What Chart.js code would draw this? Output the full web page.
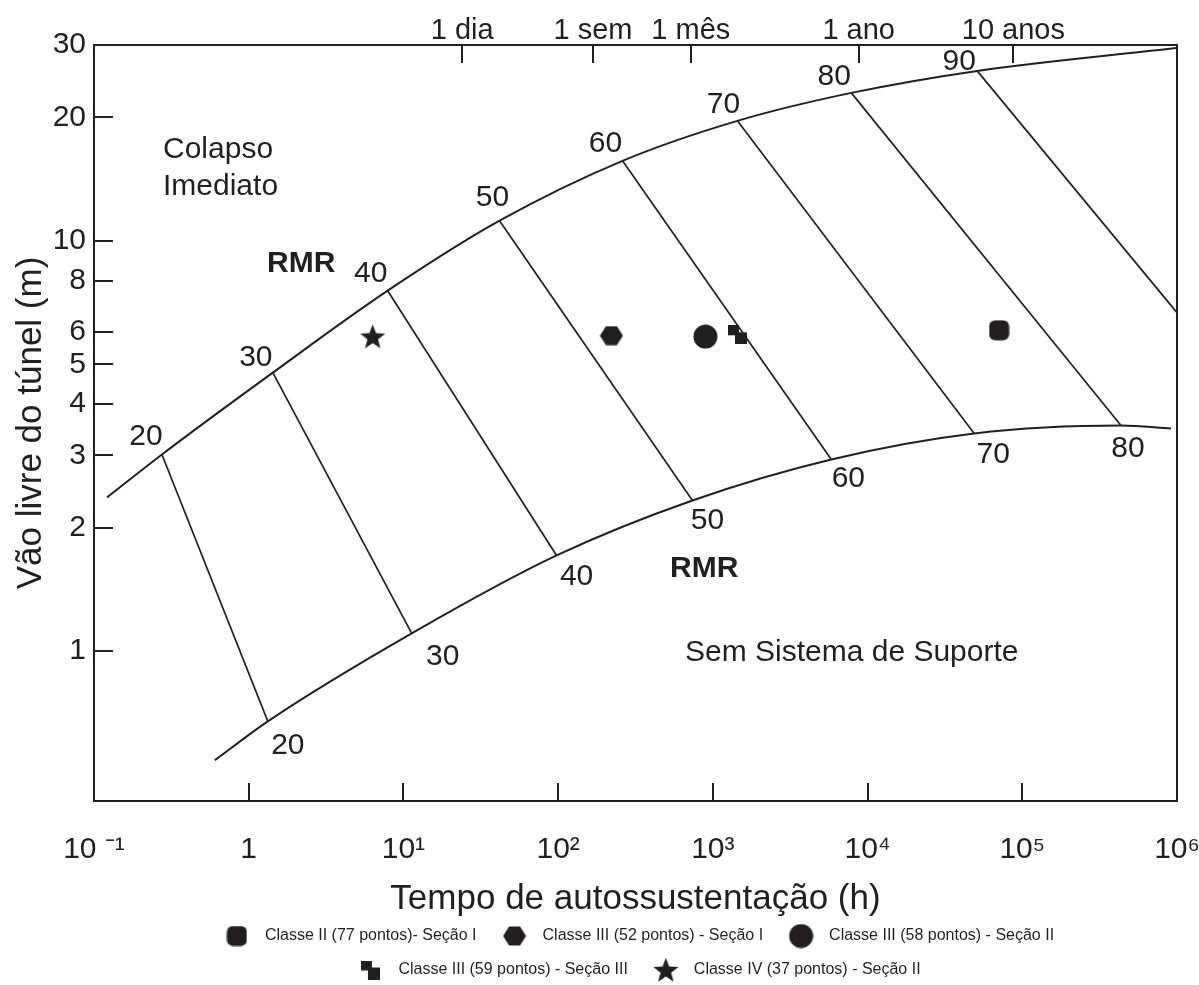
<!DOCTYPE html>
<html><head><meta charset="utf-8">
<style>html,body{margin:0;padding:0;background:#fff;}canvas{display:block;}</style>
<script src="https://cdn.jsdelivr.net/npm/chart.js@4.4.1/dist/chart.umd.min.js"></script>
</head><body>
<canvas id="c" width="1199" height="985"></canvas>
<script>
// ---------- data ----------
const timeTicks = [0.1, 1, 10, 100, 1e3, 1e4, 1e5, 1e6];
const timeTickLabels = ['10 ⁻¹', '1', '10¹', '10²', '10³', '10⁴', '10⁵', '10⁶'];
const spanTicks = [1, 2, 3, 4, 5, 6, 8, 10, 20, 30];
const periodTicks = [24, 168, 720, 8760, 87600];
const periodLabels = ['1 dia', '1 sem', '1 mês', '1 ano', '10 anos'];

// upper boundary (Colapso Imediato)
const upperTime = [0.1213, 0.2748, 1.432, 7.91, 41.8, 260.6, 1441, 7850, 51100, 985000];
const upperSpan = [2.367, 3.013, 4.77, 7.556, 11.19, 15.66, 19.6, 22.93, 25.94, 29.5];
// lower boundary (Sem Sistema de Suporte)
const lowerTime = [0.604, 1.329, 11.31, 97.7, 738, 5830, 48900, 434600, 914000];
const lowerSpan = [0.542, 0.674, 1.104, 1.71, 2.328, 2.93, 3.39, 3.545, 3.485];
// RMR iso-lines
const rmrValues = [20, 30, 40, 50, 60, 70, 80, 90];
const rmrTopTime = [0.2748, 1.432, 7.91, 41.8, 260.6, 1441, 7850, 51100];
const rmrTopSpan = [3.013, 4.77, 7.556, 11.19, 15.66, 19.6, 22.93, 25.94];
const rmrBotTime = [1.329, 11.31, 97.7, 738, 5830, 48900, 434600, 1e6];
const rmrBotSpan = [0.674, 1.104, 1.71, 2.328, 2.93, 3.39, 3.545, 6.68];
const rmrBotLabelled = [true, true, true, true, true, true, true, false];
// observed cases
const caseLabels = ['Classe II (77 pontos)- Seção I', 'Classe III (52 pontos) - Seção I', 'Classe III (58 pontos) - Seção II', 'Classe III (59 pontos) - Seção III', 'Classe IV (37 pontos) - Seção II'];
const caseTime = [70800, 221, 895, 1442, 6.33];
const caseSpan = [6.05, 5.87, 5.84, 5.9, 5.84];

// ---------- styling ----------
const INK = '#231f20';
const BASE = "'Liberation Sans', Arial, sans-serif";
Chart.defaults.font.family = BASE;
Chart.defaults.color = INK;

function hasFont(name) {
  const g = document.createElement('canvas').getContext('2d');
  const s = 'Classe III (52 pontos) - Seção I';
  g.font = '20px monospace'; const a = g.measureText(s).width;
  g.font = '20px "' + name + '", monospace'; const b = g.measureText(s).width;
  return Math.abs(a - b) > 0.5;
}
const narrow = hasFont('Liberation Sans Narrow');
const LEG_FONT = narrow ? {family: "'Liberation Sans Narrow', " + BASE, size: 19} : {family: BASE, size: 16};
const LEG_PAD = 34 - LEG_FONT.size;                 // row pitch ≈ 34px
const LEG_H = 2 * (LEG_FONT.size + LEG_PAD) + 10;   // legend box height (2 rows)
const PLOT_BOTTOM = 801, BOTTOM_EDGE = 988;         // layout extends 3px below canvas
const X_AXIS_H = BOTTOM_EDGE - PLOT_BOTTOM - LEG_H;

function mk(w, h, draw) {
  const c = document.createElement('canvas'); c.width = w; c.height = h;
  const g = c.getContext('2d'); g.fillStyle = INK; draw(g, w, h); return c;
}
const roundSq = mk(21, 21, g => { g.beginPath(); g.roundRect(0.5, 0.5, 20, 20, 6); g.fill(); });
const hexagon = mk(24, 20, g => { g.beginPath(); g.moveTo(0.5, 10); g.lineTo(6.5, 0.5); g.lineTo(17.5, 0.5); g.lineTo(23.5, 10); g.lineTo(17.5, 19.5); g.lineTo(6.5, 19.5); g.closePath(); g.fill(); });
const circle = mk(25, 25, g => { g.beginPath(); g.arc(12.5, 12.5, 12, 0, Math.PI * 2); g.fill(); });
const twoSq = mk(19, 19, g => { g.fillRect(0, 0, 11, 10); g.fillRect(7, 7, 12, 12); });
const star = mk(27, 26, g => {
  g.beginPath();
  for (let k = 0; k < 10; k++) {
    const r = k % 2 ? 5.6 : 13.2; const a = -Math.PI / 2 + k * Math.PI / 5;
    const px = 13.5 + r * Math.cos(a), py = 14 + r * Math.sin(a);
    k ? g.lineTo(px, py) : g.moveTo(px, py);
  }
  g.closePath(); g.fill();
});
const caseStyles = [roundSq, hexagon, circle, twoSq, star];

// ---------- datasets ----------
const datasets = [];
caseLabels.forEach((lab, i) => datasets.push({
  label: lab, data: [{x: caseTime[i], y: caseSpan[i]}],
  pointStyle: caseStyles[i], pointRadius: 12, backgroundColor: INK, borderColor: INK
}));
const pts = (xs, ys) => xs.map((v, i) => ({x: v, y: ys[i]}));
datasets.push({data: pts(upperTime, upperSpan), showLine: true, borderColor: INK, borderWidth: 2,
  pointRadius: 0, cubicInterpolationMode: 'monotone'});
datasets.push({data: pts(lowerTime, lowerSpan), showLine: true, borderColor: INK, borderWidth: 2,
  pointRadius: 0, cubicInterpolationMode: 'monotone'});
rmrValues.forEach((v, i) => datasets.push({
  data: [{x: rmrTopTime[i], y: rmrTopSpan[i]}, {x: rmrBotTime[i], y: rmrBotSpan[i]}],
  showLine: true, borderColor: INK, borderWidth: 1.7, pointRadius: 0
}));

// ---------- plugins ----------
const innerTicks = {
  id: 'innerTicks',
  afterDraw(chart) {
    const {ctx, chartArea: a, scales} = chart;
    ctx.save(); ctx.strokeStyle = INK; ctx.lineWidth = 2;
    ctx.beginPath();
    timeTicks.forEach(v => { const p = Math.round(scales.x.getPixelForValue(v)); ctx.moveTo(p, a.bottom); ctx.lineTo(p, a.bottom - 18); });
    periodTicks.forEach(v => { const p = Math.round(scales.x2.getPixelForValue(v)); ctx.moveTo(p, a.top); ctx.lineTo(p, a.top + 18); });
    spanTicks.forEach(v => { const p = Math.round(scales.y.getPixelForValue(v)); ctx.moveTo(a.left, p); ctx.lineTo(a.left + 19, p); });
    ctx.stroke(); ctx.restore();
  }
};
const upperOff = [[-16, -18], [-17, -15], [-17, -17], [-7, -23], [-17, -17], [-14, -16], [-17, -16], [-18, -9]];
const lowerOff = [[20, 24], [31, 23], [20, 21], [15, 20], [17, 19], [19, 21], [7, 23]];
const annotations = {
  id: 'annotations',
  afterDraw(chart) {
    const {ctx, chartArea: a, scales: {x, y}} = chart;
    ctx.save(); ctx.fillStyle = INK;
    ctx.font = '30px ' + BASE; ctx.textAlign = 'center'; ctx.textBaseline = 'middle';
    rmrValues.forEach((v, i) => {
      const px = x.getPixelForValue(rmrTopTime[i]), py = y.getPixelForValue(rmrTopSpan[i]);
      ctx.fillText(String(v), px + upperOff[i][0], py + upperOff[i][1]);
      if (rmrBotLabelled[i]) {
        const qx = x.getPixelForValue(rmrBotTime[i]), qy = y.getPixelForValue(rmrBotSpan[i]);
        ctx.fillText(String(v), qx + lowerOff[i][0], qy + lowerOff[i][1]);
      }
    });
    ctx.textAlign = 'left'; ctx.textBaseline = 'alphabetic';
    ctx.fillText('Colapso', a.left + 69, a.top + 113);
    ctx.fillText('Imediato', a.left + 69, a.top + 150);
    ctx.fillText('Sem Sistema de Suporte', a.left + 591, a.top + 616);
    ctx.font = 'bold 30px ' + BASE;
    ctx.fillText('RMR', a.left + 173, a.top + 227);
    ctx.fillText('RMR', a.left + 576, a.top + 532);
    ctx.restore();
  }
};

// ---------- chart ----------
new Chart(document.getElementById('c'), {
  type: 'scatter',
  data: {datasets},
  plugins: [innerTicks, annotations],
  options: {
    responsive: false, devicePixelRatio: 1, animation: false, events: [],
    layout: {padding: {top: 0, left: 0, right: 0, bottom: -3}},
    plugins: {
      tooltip: {enabled: false},
      legend: {
        position: 'bottom', fullSize: false, align: 'center',
        labels: {usePointStyle: true, pointStyleWidth: 40, padding: LEG_PAD, color: INK, font: LEG_FONT,
          filter: it => !!it.text}
      }
    },
    scales: {
      x: {
        type: 'logarithmic', position: 'bottom', min: 0.1, max: 1e6,
        afterBuildTicks: s => { s.ticks = timeTicks.map(v => ({value: v})); },
        afterFit: s => { s.height = X_AXIS_H; s.paddingLeft = 0; s.paddingRight = 0; },
        grid: {display: false, drawTicks: false},
        border: {display: true, color: INK, width: 2},
        ticks: {autoSkip: false, maxRotation: 0, minRotation: 0, padding: 31, color: INK,
          font: {size: 30, lineHeight: 1.2}, callback: v => timeTickLabels[timeTicks.indexOf(v)]},
        title: {display: true, text: 'Tempo de autossustentação (h)', color: INK,
          font: {size: 35, lineHeight: 1.2}, padding: {top: 0, bottom: X_AXIS_H - 21 - 98}}
      },
      x2: {
        type: 'logarithmic', position: 'top', min: 0.1, max: 1e6,
        afterBuildTicks: s => { s.ticks = periodTicks.map(v => ({value: v})); },
        afterFit: s => { s.height = 45; s.paddingLeft = 0; s.paddingRight = 0; },
        grid: {display: false, drawTicks: false},
        border: {display: true, color: INK, width: 2},
        ticks: {autoSkip: false, maxRotation: 0, minRotation: 0, padding: 0, color: INK,
          font: {size: 29, lineHeight: 1}, callback: v => periodLabels[periodTicks.indexOf(v)]}
      },
      y: {
        type: 'logarithmic', position: 'left', min: 0.431, max: 30,
        afterBuildTicks: s => { s.ticks = spanTicks.map(v => ({value: v})); },
        afterFit: s => { s.width = 94; },
        grid: {display: false, drawTicks: false},
        border: {display: true, color: INK, width: 2},
        ticks: {autoSkip: false, padding: 8, color: INK, font: {size: 30}, callback: v => String(v)},
        title: {display: true, text: 'Vão livre do túnel (m)', color: INK,
          font: {size: 35, lineHeight: 1.2}, padding: {top: 10, bottom: 0}}
      },
      y2: {
        type: 'logarithmic', position: 'right', min: 0.431, max: 30,
        afterFit: s => { s.width = 22; },
        grid: {display: false, drawTicks: false},
        border: {display: true, color: INK, width: 2},
        ticks: {display: false}
      }
    }
  }
});
</script></body></html>
